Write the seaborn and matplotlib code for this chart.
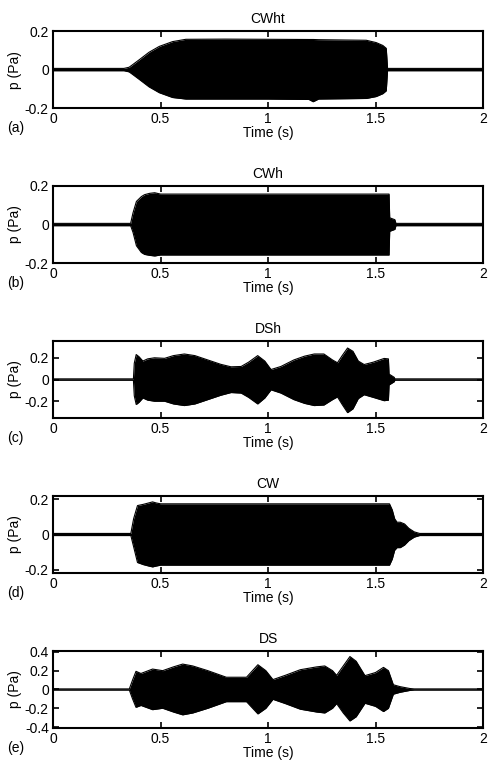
import matplotlib
matplotlib.use('Agg')
import matplotlib.pyplot as plt
import matplotlib.ticker as mticker
import seaborn as sns

titles = ['CWht', 'CWh', 'DSh', 'CW', 'DS']
panel_tags = ['(a)', '(b)', '(c)', '(d)', '(e)']

t_cwht = [0, 0.33, 0.354, 0.37, 0.40, 0.447, 0.494, 0.556, 0.618, 0.8, 1.0, 1.19, 1.21, 1.235, 1.457, 1.503, 1.534, 1.55, 1.556, 2.0]
up_cwht = [0.006, 0.006, 0.012, 0.025, 0.05, 0.09, 0.12, 0.145, 0.157, 0.158, 0.157, 0.156, 0.156, 0.155, 0.152, 0.14, 0.125, 0.11, 0.006, 0.006]
lo_cwht = [-0.006, -0.006, -0.012, -0.025, -0.05, -0.09, -0.12, -0.145, -0.153, -0.153, -0.153, -0.155, -0.167, -0.153, -0.15, -0.14, -0.125, -0.11, -0.006, -0.006]

t_cwh = [0, 0.361, 0.372, 0.388, 0.411, 0.426, 0.45, 0.473, 0.50, 1.0, 1.563, 1.566, 1.59, 1.595, 2.0]
up_cwh = [0.006, 0.006, 0.06, 0.12, 0.145, 0.155, 0.162, 0.165, 0.158, 0.158, 0.158, 0.035, 0.025, 0.006, 0.006]
lo_cwh = [-0.006, -0.006, -0.04, -0.11, -0.145, -0.155, -0.16, -0.163, -0.158, -0.158, -0.158, -0.035, -0.025, -0.006, -0.006]

t_dsh = [0, 0.374, 0.378, 0.387, 0.40, 0.418, 0.44, 0.472, 0.519, 0.56, 0.611, 0.66, 0.72, 0.78, 0.828, 0.875, 0.91, 0.952,
         0.985, 1.014, 1.06, 1.12, 1.17, 1.215, 1.26, 1.3, 1.323, 1.345, 1.37, 1.395, 1.42, 1.447, 1.49, 1.54, 1.56, 1.563,
         1.587, 1.59, 2.0]
up_dsh = [0.006, 0.006, 0.15, 0.23, 0.21, 0.17, 0.19, 0.20, 0.195, 0.22, 0.235, 0.22, 0.18, 0.14, 0.117, 0.12, 0.16, 0.22,
          0.17, 0.092, 0.12, 0.18, 0.215, 0.235, 0.235, 0.18, 0.154, 0.22, 0.29, 0.26, 0.17, 0.138, 0.16, 0.194, 0.19, 0.05,
          0.02, 0.006, 0.006]
lo_dsh = [-0.006, -0.006, -0.15, -0.23, -0.21, -0.17, -0.19, -0.20, -0.2, -0.225, -0.24, -0.225, -0.185, -0.145, -0.12, -0.125, -0.165, -0.225,
          -0.17, -0.095, -0.125, -0.185, -0.22, -0.24, -0.235, -0.185, -0.16, -0.23, -0.305, -0.27, -0.175, -0.14, -0.165, -0.195, -0.19, -0.05,
          -0.02, -0.006, -0.006]

t_cw = [0, 0.362, 0.375, 0.393, 0.42, 0.445, 0.463, 0.48, 0.50, 1.0, 1.565, 1.578, 1.589, 1.60, 1.615, 1.635, 1.655, 1.68, 1.705, 2.0]
up_cw = [0.006, 0.006, 0.09, 0.165, 0.172, 0.18, 0.186, 0.18, 0.175, 0.175, 0.175, 0.14, 0.09, 0.07, 0.07, 0.06, 0.035, 0.015, 0.006, 0.006]
lo_cw = [-0.006, -0.006, -0.07, -0.16, -0.172, -0.18, -0.185, -0.18, -0.175, -0.175, -0.175, -0.14, -0.09, -0.075, -0.075, -0.06, -0.035, -0.015, -0.006, -0.006]

t_ds = [0, 0.355, 0.37, 0.386, 0.409, 0.463, 0.51, 0.56, 0.603, 0.65, 0.72, 0.806, 0.9, 0.953, 0.99, 1.023, 1.08, 1.15, 1.226,
        1.264, 1.3, 1.319, 1.35, 1.381, 1.41, 1.451, 1.5, 1.537, 1.56, 1.583, 1.614, 1.66, 1.68, 2.0]
up_ds = [0.006, 0.006, 0.1, 0.193, 0.17, 0.217, 0.2, 0.24, 0.27, 0.25, 0.2, 0.13, 0.13, 0.263, 0.2, 0.105, 0.15, 0.21, 0.24,
         0.25, 0.2, 0.15, 0.25, 0.35, 0.3, 0.147, 0.18, 0.235, 0.2, 0.05, 0.03, 0.01, 0.006, 0.006]
lo_ds = [-0.006, -0.006, -0.1, -0.19, -0.17, -0.215, -0.2, -0.24, -0.27, -0.25, -0.2, -0.13, -0.13, -0.26, -0.2, -0.105, -0.15, -0.21, -0.24,
         -0.25, -0.2, -0.15, -0.25, -0.335, -0.29, -0.147, -0.18, -0.235, -0.2, -0.05, -0.03, -0.01, -0.006, -0.006]

times = [t_cwht, t_cwh, t_dsh, t_cw, t_ds]
uppers = [up_cwht, up_cwh, up_dsh, up_cw, up_ds]
lowers = [lo_cwht, lo_cwh, lo_dsh, lo_cw, lo_ds]
ylims = [0.2, 0.2, 0.355, 0.22, 0.41]
yticks = [[-0.2, 0, 0.2], [-0.2, 0, 0.2], [-0.2, 0, 0.2], [-0.2, 0, 0.2], [-0.4, -0.2, 0, 0.2, 0.4]]
xticks = [0, 0.5, 1, 1.5, 2]

sns.set_style('ticks')
plt.rcParams['font.family'] = ['Liberation Sans', 'DejaVu Sans']
plt.rcParams['axes.unicode_minus'] = False
plt.rcParams['font.size'] = 10
# matlab look: everything pure black
for key in ['text.color', 'axes.labelcolor', 'xtick.color', 'ytick.color', 'axes.edgecolor']:
    plt.rcParams[key] = 'black'

fig, axes = plt.subplots(5, 1, figsize=(4.88, 7.62), dpi=100)
fig.subplots_adjust(left=0.1086, right=0.9898, top=0.9593, bottom=0.0446, hspace=1.01)

for i, ax in enumerate(axes):
    sns.lineplot(x=times[i], y=uppers[i], ax=ax, color='k', lw=0.8, estimator=None, sort=False)
    sns.lineplot(x=times[i], y=lowers[i], ax=ax, color='k', lw=0.8, estimator=None, sort=False)
    ax.fill_between(times[i], lowers[i], uppers[i], color='k', lw=0)

    ax.set_xlim(0, 2)
    ax.set_ylim(-ylims[i], ylims[i])
    ax.set_xticks(xticks)
    ax.set_yticks(yticks[i])
    ax.xaxis.set_major_formatter(mticker.FormatStrFormatter('%g'))
    ax.yaxis.set_major_formatter(mticker.FormatStrFormatter('%g'))
    ax.tick_params(direction='in', length=4, width=1.2, top=True, right=True, labelsize=10, pad=3,
                   colors='black')
    for sp in ax.spines.values():
        sp.set_visible(True)
        sp.set_linewidth(1.5)
        sp.set_color('k')
    ax.set_title(titles[i], fontsize=10, color='black')
    ax.set_xlabel('Time (s)', fontsize=10, labelpad=0, color='black')
    ax.set_ylabel('p (Pa)', fontsize=10, labelpad=2, color='black')

    pos = ax.get_position()
    fig.text(7 / 488, pos.y0 - 20 / 762, panel_tags[i], fontsize=10, va='center', ha='left', color='black')

fig.savefig('out.png', dpi=100)
